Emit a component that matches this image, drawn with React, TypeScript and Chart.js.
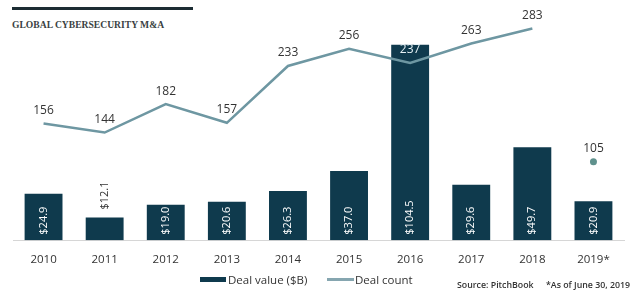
import React, { useEffect, useRef } from "react";
import { Chart, registerables } from "chart.js";

Chart.register(...registerables);

const years = ["2010", "2011", "2012", "2013", "2014", "2015", "2016", "2017", "2018", "2019*"];
const dealValue = [24.9, 12.1, 19.0, 20.6, 26.3, 37.0, 104.5, 29.6, 49.7, 20.9];
const dealCount = [156, 144, 182, 157, 233, 256, 237, 263, 283, 105];

const BAR_COLOR = "#0f3a4d";
const LINE_COLOR = "#6e97a2";
const DOT_COLOR = "#5f918d";
const TEXT_COLOR = "#333333";
const FONT = "'Open Sans', sans-serif";

const labelPlugin = {
  id: "valueLabels",
  afterDatasetsDraw(chart: any) {
    const ctx = chart.ctx;
    const barMeta = chart.getDatasetMeta(1);
    const lineMeta = chart.getDatasetMeta(0);
    ctx.save();
    ctx.font = `11px ${FONT}`;
    barMeta.data.forEach((bar: any, i: number) => {
      const v = dealValue[i];
      const txt = `$${v.toFixed(1)}`;
      const w = ctx.measureText(txt).width;
      const h = bar.base - bar.y;
      ctx.save();
      ctx.translate(bar.x, 0);
      ctx.rotate(-Math.PI / 2);
      ctx.textBaseline = "middle";
      ctx.textAlign = "left";
      if (h > w + 2) {
        ctx.fillStyle = "#ffffff";
        ctx.fillText(txt, -(bar.base - 5.5), 0);
      } else {
        ctx.fillStyle = TEXT_COLOR;
        ctx.fillText(txt, -(bar.y - 8), 0);
      }
      ctx.restore();
    });
    ctx.font = `12px ${FONT}`;
    ctx.textAlign = "center";
    ctx.textBaseline = "middle";
    lineMeta.data.forEach((pt: any, i: number) => {
      const barEl = barMeta.data[i];
      const ly = pt.y - 13;
      const inside = ly > barEl.y && ly < barEl.base && Math.abs(pt.x - barEl.x) < barEl.width / 2;
      ctx.fillStyle = inside ? "#e6f1f5" : TEXT_COLOR;
      ctx.fillText(String(dealCount[i]), pt.x, ly);
    });
    ctx.restore();
  },
};

export default function App() {
  const ref = useRef<HTMLCanvasElement | null>(null);
  useEffect(() => {
    if (!ref.current) return;
    const chart = new Chart(ref.current, {
      type: "bar",
      data: {
        labels: years,
        datasets: [
          {
            type: "line",
            label: "Deal count",
            data: dealCount,
            yAxisID: "y1",
            borderColor: LINE_COLOR,
            backgroundColor: DOT_COLOR,
            borderWidth: 2.5,
            tension: 0,
            pointRadius: dealCount.map((_, i) => (i === dealCount.length - 1 ? 3.5 : 0)),
            pointBackgroundColor: DOT_COLOR,
            pointBorderWidth: 0,
            segment: {
              borderColor: (c: any) => (c.p1DataIndex === dealCount.length - 1 ? "rgba(0,0,0,0)" : LINE_COLOR),
            },
            order: 0,
          } as any,
          {
            type: "bar",
            label: "Deal value ($B)",
            data: dealValue,
            yAxisID: "y",
            backgroundColor: BAR_COLOR,
            categoryPercentage: 1,
            barPercentage: 0.62,
            order: 1,
          },
        ],
      },
      options: {
        responsive: false,
        animation: false,
        devicePixelRatio: 1,
        layout: { padding: { left: 13, right: 16, top: 14, bottom: 0 } },
        plugins: { legend: { display: false }, tooltip: { enabled: false } },
        scales: {
          x: {
            offset: true,
            grid: { display: false, drawTicks: false },
            border: { display: true, color: "#d6d6d6", width: 1 },
            ticks: { color: TEXT_COLOR, font: { family: FONT, size: 11.5 }, padding: 12.5 },
          },
          y: { display: false, min: 0, max: 121 },
          y1: { display: false, min: 0, max: 302.5 },
        },
      },
      plugins: [labelPlugin],
    });
    return () => chart.destroy();
  }, []);

  return (
    <div style={{ position: "absolute", left: 0, top: 0, width: 640, height: 294, background: "#fff", overflow: "hidden" }}>
      <div style={{ position: "absolute", left: 12, top: 7, width: 181, height: 3, background: "#1c2c33" }} />
      <div
        style={{
          position: "absolute",
          left: 12,
          top: 19,
          fontFamily: "'Liberation Serif', serif",
          fontWeight: "bold",
          fontSize: 9.6,
          color: "#3a3f42",
          lineHeight: "12px",
          whiteSpace: "nowrap",
        }}
      >
        GLOBAL CYBERSECURITY M&amp;A
      </div>
      <canvas ref={ref} width={640} height={279} style={{ position: "absolute", left: 0, top: 0 }} />
      <div style={{ position: "absolute", left: 200, top: 277, width: 26, height: 5, background: BAR_COLOR }} />
      <div
        style={{ position: "absolute", left: 228, top: 272, fontFamily: FONT, fontSize: 11.5, color: TEXT_COLOR, lineHeight: "16px", whiteSpace: "nowrap" }}
      >
        Deal value ($B)
      </div>
      <div style={{ position: "absolute", left: 327, top: 278, width: 27, height: 2.5, background: "#86a6b0" }} />
      <div
        style={{ position: "absolute", left: 355, top: 272, fontFamily: FONT, fontSize: 11.5, color: TEXT_COLOR, lineHeight: "16px", whiteSpace: "nowrap" }}
      >
        Deal count
      </div>
      <div
        style={{ position: "absolute", left: 457, top: 279, fontFamily: FONT, fontSize: 8.8, fontWeight: 600, color: TEXT_COLOR, lineHeight: "12px", whiteSpace: "nowrap" }}
      >
        Source: PitchBook
      </div>
      <div
        style={{ position: "absolute", left: 546, top: 279, fontFamily: FONT, fontSize: 8.8, fontWeight: 600, color: TEXT_COLOR, lineHeight: "12px", whiteSpace: "nowrap" }}
      >
        *As of June 30, 2019
      </div>
    </div>
  );
}
